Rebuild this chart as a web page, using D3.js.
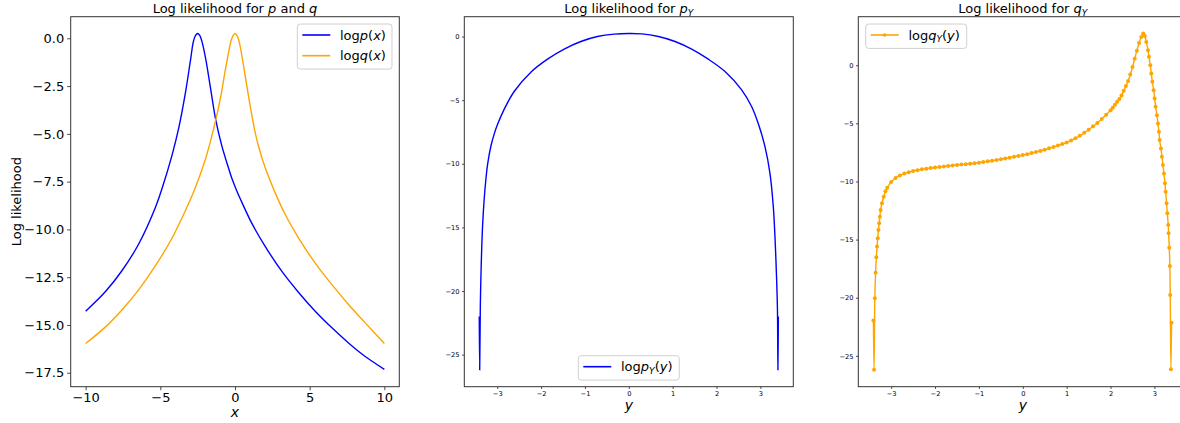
<!DOCTYPE html>
<html>
<head>
<meta charset="utf-8">
<script src="https://cdn.jsdelivr.net/npm/d3@7"></script>
<style>
  body { margin: 0; background: #fff; }
  text { font-family: "DejaVu Sans", sans-serif; fill: #000; }
</style>
</head>
<body>
<div id="chart"></div>
<script>
// ---- panel 1: log p(x), log q(x)
const pX = [-10, -8.67, -7.56, -6.44, -5.33, -4.88, -4.21, -3.77, -3.32, -2.99, -2.78, -2.64, -2.5, -2.36, -2.22,
  -1.98, -1.65, -1.29, -0.89, -0.45, -0.2, 0.1, 0.47, 1.14, 2.03, 3.14, 4.26, 5.37, 6.49, 7.6, 8.72, 10];
const pLog = [-14.28, -13.25, -12.15, -10.75, -8.85, -7.85, -6.1, -4.7, -2.85, -1.2, -0.15, 0.15, 0.25, 0.15, -0.15,
  -1.0, -2.55, -4.27, -5.6, -6.75, -7.35, -7.95, -8.6, -9.7, -10.9, -12.2, -13.3, -14.28, -15.15, -15.94, -16.65, -17.32];

const qX = [-10, -8.67, -7.56, -6.44, -5.33, -4.21, -3.37, -2.7, -2.03, -1.58, -1.29, -1.1, -0.91, -0.69, -0.47, -0.25, -0.12,
  0, 0.12, 0.25, 0.47, 0.69, 0.91, 1.14, 1.36, 1.58, 2.03, 2.7, 3.37, 4.26, 5.37, 6.49, 7.6, 8.72, 10];
const qLog = [-15.97, -15.1, -14.2, -13.15, -11.9, -10.45, -9.1, -7.9, -6.45, -5.2, -4.27, -3.6, -2.85, -1.85, -0.9, -0.09, 0.15,
  0.25, 0.15, -0.09, -0.96, -2.0, -3.05, -4.09, -4.96, -5.66, -6.79, -8.1, -9.23, -10.45, -11.76, -12.89, -13.93, -14.89, -15.97];

// ---- panel 2: log p_Y(y)
const pyY = [-3.41, -3.4, -3.385, -3.37, -3.35, -3.33, -3.3, -3.258, -3.22, -3.144, -3.068, -2.992, -2.84, -2.61,
  -2.233, -1.853, -1.474, -1.094, -0.715, -0.335, 0, 0.295, 0.675, 1.055, 1.434, 1.813, 2.194, 2.573, 2.8, 2.95,
  3.105, 3.219, 3.295, 3.333, 3.371, 3.39, 3.4, 3.41];
const pyLog = [-22.0, -26.2, -21.0, -18.6, -16.2, -14.6, -12.9, -11.2, -10.05, -8.6, -7.65, -6.9, -5.7, -4.3,
  -2.8, -1.78, -0.99, -0.39, 0.0, 0.19, 0.24, 0.21, 0.0, -0.39, -0.99, -1.78, -2.75, -4.19, -5.5, -6.82,
  -8.65, -10.75, -13.37, -15.74, -19.14, -21.5, -26.2, -22.0];

// ---- panel 3: log q_Y(y), drawn with point markers
const qyY = [-3.405, -3.39, -3.372, -3.355, -3.338, -3.322, -3.306, -3.29, -3.274, -3.258, -3.24, -3.21, -3.17, -3.13, -3.09,
  -3.0, -2.9, -2.8, -2.7, -2.6, -2.5, -2.4, -2.3, -2.2, -2.1, -2.0, -1.9, -1.8, -1.7, -1.6, -1.5, -1.4, -1.3, -1.2, -1.1,
  -1.0, -0.9, -0.8, -0.7, -0.6, -0.5, -0.4, -0.3, -0.2, -0.1, 0, 0.1, 0.2, 0.3, 0.4, 0.5, 0.6, 0.7, 0.8, 0.9,
  1.0, 1.1, 1.2, 1.3, 1.4, 1.5, 1.6, 1.7, 1.8, 1.9, 2.0, 2.05, 2.1, 2.15, 2.2, 2.25, 2.3, 2.35, 2.4, 2.45, 2.5,
  2.55, 2.6, 2.65, 2.7, 2.745, 2.78, 2.815, 2.853, 2.876, 2.906, 2.929, 2.952, 2.982, 3.005, 3.027, 3.057, 3.08,
  3.103, 3.118, 3.148, 3.171, 3.194, 3.217, 3.24, 3.255, 3.277, 3.293, 3.315, 3.323, 3.338, 3.352, 3.36, 3.376, 3.39];
const qyLog = [-21.96, -26.2, -20.05, -17.84, -16.52, -15.6, -14.89, -14.18, -13.6, -13.03, -12.46, -11.88, -11.31, -10.85, -10.55,
  -10.05, -9.7, -9.48, -9.32, -9.2, -9.1, -9.03, -8.96, -8.9, -8.85, -8.8, -8.75, -8.71, -8.67, -8.63, -8.59, -8.55, -8.51, -8.47, -8.43,
  -8.39, -8.33, -8.27, -8.21, -8.15, -8.09, -8.02, -7.95, -7.88, -7.8, -7.73, -7.65, -7.56, -7.47, -7.37, -7.27, -7.15, -7.03, -6.9, -6.78,
  -6.65, -6.47, -6.28, -6.07, -5.82, -5.55, -5.26, -4.97, -4.62, -4.26, -3.87, -3.65, -3.4, -3.15, -2.9, -2.6, -2.2, -1.8, -1.35, -0.8, -0.15,
  0.55, 1.25, 1.9, 2.43, 2.72, 2.5, 2.0, 1.29, 0.72, 0.0, -0.72, -1.43, -2.15, -2.86, -3.58, -4.3, -5.01,
  -5.73, -6.44, -7.16, -7.87, -8.59, -9.31, -10.16, -10.88, -11.88, -12.74, -13.75, -14.46, -15.69, -17.27, -19.76, -26.15, -22.14];

// ---- ticks
const xTicksP1 = [-10, -5, 0, 5, 10];
const yTicksP1 = [0, -2.5, -5, -7.5, -10, -12.5, -15, -17.5];
const xTicksY = [-3, -2, -1, 0, 1, 2, 3];
const yTicksY = [0, -5, -10, -15, -20, -25];

const BLUE = "#0000ff", ORANGE = "#ffa500";
const W = 1180, H = 423;
const plotTop = 16.7, plotBottom = 386.7;

const svg = d3.select("#chart").append("svg")
  .attr("width", W)
  .attr("height", H);

// mathtext-like label: plain / italic / subscript pieces
function mathText(sel, parts, size) {
  let shifted = false;
  parts.forEach(p => {
    const t = sel.append("tspan").text(p.t);
    if (p.i) t.style("font-style", "italic");
    if (p.sub) {
      t.style("font-size", (size * 0.7) + "px").attr("dy", size * 0.22);
      shifted = true;
    } else if (shifted) {
      t.attr("dy", -size * 0.22);
      shifted = false;
    }
  });
}

function drawPanel(cfg) {
  const x = d3.scaleLinear().domain(cfg.xDomain).range([cfg.left, cfg.right]);
  const y = d3.scaleLinear().domain(cfg.yDomain).range([plotBottom, plotTop]);
  const g = svg.append("g");

  // x axis
  const xAxis = g.append("g")
    .attr("transform", `translate(0,${plotBottom})`)
    .call(d3.axisBottom(x).tickValues(cfg.xTicks).tickSizeOuter(0)
      .tickSize(cfg.tickLen).tickPadding(cfg.pad).tickFormat(cfg.xFmt));
  xAxis.select(".domain").remove();
  xAxis.selectAll("line").attr("stroke", "#333").attr("stroke-width", 0.9);
  xAxis.selectAll("text")
    .attr("font-family", "DejaVu Sans")
    .style("font-size", cfg.tickFont + "px")
    .attr("fill", "#000");

  // y axis
  const yAxis = g.append("g")
    .attr("transform", `translate(${cfg.left},0)`)
    .call(d3.axisLeft(y).tickValues(cfg.yTicks).tickSizeOuter(0)
      .tickSize(cfg.tickLen).tickPadding(cfg.pad).tickFormat(cfg.yFmt));
  yAxis.select(".domain").remove();
  yAxis.selectAll("line").attr("stroke", "#333").attr("stroke-width", 0.9);
  yAxis.selectAll("text")
    .attr("font-family", "DejaVu Sans")
    .style("font-size", cfg.tickFont + "px")
    .attr("fill", "#000");

  // series
  cfg.series.forEach(s => {
    const pts = s.xs.map((v, i) => [v, s.ys[i]]);
    g.append("path")
      .datum(pts)
      .attr("fill", "none")
      .attr("stroke", s.color)
      .attr("stroke-width", 1.4)
      .attr("d", d3.line().x(d => x(d[0])).y(d => y(d[1])).curve(d3.curveCatmullRom.alpha(0.5)));
    if (s.markers) {
      g.append("g").selectAll("circle")
        .data(pts)
        .enter()
        .append("circle")
        .attr("cx", d => x(d[0]))
        .attr("cy", d => y(d[1]))
        .attr("r", 2)
        .attr("fill", s.color);
    }
  });

  // frame
  g.append("rect")
    .attr("x", cfg.left)
    .attr("y", plotTop)
    .attr("width", cfg.right - cfg.left)
    .attr("height", plotBottom - plotTop)
    .attr("fill", "none")
    .attr("stroke", "#333")
    .attr("stroke-width", 1);

  // title
  const cx = (cfg.left + cfg.right) / 2;
  mathText(g.append("text")
    .attr("x", cfg.titleX || cx)
    .attr("y", 12.8)
    .attr("text-anchor", "middle")
    .style("font-size", "13px"), cfg.title, 13);

  // axis labels
  g.append("text")
    .attr("x", cfg.titleX || cx)
    .attr("y", cfg.xLabelY)
    .attr("text-anchor", "middle")
    .style("font-size", "14px")
    .style("font-style", "italic")
    .text(cfg.xLabel);

  if (cfg.yLabel) {
    g.append("text")
      .attr("transform", `translate(20.5,${(plotTop + plotBottom) / 2}) rotate(-90)`)
      .attr("text-anchor", "middle")
      .style("font-size", "13px")
      .text(cfg.yLabel);
  }

  // legend
  const lg = cfg.legend;
  const leg = g.append("g").attr("transform", `translate(${lg.x},${lg.y})`);
  leg.append("rect")
    .attr("width", lg.w)
    .attr("height", 8 + lg.items.length * 20.7 - 4.3)
    .attr("rx", 3)
    .attr("fill", "rgba(255,255,255,0.8)")
    .attr("stroke", "#d0d0d0")
    .attr("stroke-width", 1);
  lg.items.forEach((it, i) => {
    const ly = 11 + i * 20.7;
    leg.append("line")
      .attr("x1", 5).attr("x2", 33)
      .attr("y1", ly).attr("y2", ly)
      .attr("stroke", it.color)
      .attr("stroke-width", 1.6);
    if (it.markers) {
      leg.append("circle").attr("cx", 19).attr("cy", ly).attr("r", 1.8).attr("fill", it.color);
    }
    mathText(leg.append("text")
      .attr("x", 42.7)
      .attr("y", ly + 4.6)
      .style("font-size", "13px"), it.label, 13);
  });
}

const fmtInt = d3.format("d");

drawPanel({
  left: 70.7, right: 399.3,
  xDomain: [-11, 11], yDomain: [-18.23, 1.13],
  xTicks: xTicksP1, yTicks: yTicksP1,
  xFmt: fmtInt, yFmt: d3.format(".1f"),
  tickFont: 13, tickLen: 3.5, pad: 3,
  title: [{ t: "Log likelihood for " }, { t: "p", i: 1 }, { t: " and " }, { t: "q", i: 1 }],
  xLabel: "x", xLabelY: 416.5,
  yLabel: "Log likelihood",
  series: [
    { xs: pX, ys: pLog, color: BLUE },
    { xs: qX, ys: qLog, color: ORANGE }
  ],
  legend: {
    x: 297.3, y: 24, w: 94.7,
    items: [
      { color: BLUE, label: [{ t: "log" }, { t: "p", i: 1 }, { t: "(" }, { t: "x", i: 1 }, { t: ")" }] },
      { color: ORANGE, label: [{ t: "log" }, { t: "q", i: 1 }, { t: "(" }, { t: "x", i: 1 }, { t: ")" }] }
    ]
  }
});

drawPanel({
  left: 464.3, right: 793.3,
  xDomain: [-3.751, 3.751], yDomain: [-27.52, 1.56],
  xTicks: xTicksY, yTicks: yTicksY,
  xFmt: fmtInt, yFmt: fmtInt,
  tickFont: 6.7, tickLen: 2.2, pad: 2.5,
  title: [{ t: "Log likelihood for " }, { t: "p", i: 1 }, { t: "Y", i: 1, sub: 1 }],
  xLabel: "y", xLabelY: 409.5,
  series: [{ xs: pyY, ys: pyLog, color: BLUE }],
  legend: {
    x: 578.3, y: 355.7, w: 101,
    items: [
      { color: BLUE, label: [{ t: "log" }, { t: "p", i: 1 }, { t: "Y", i: 1, sub: 1 }, { t: "(" }, { t: "y", i: 1 }, { t: ")" }] }
    ]
  }
});

drawPanel({
  left: 858.3, right: 1187.3,
  xDomain: [-3.749, 3.749], yDomain: [-27.65, 4.17],
  xTicks: xTicksY, yTicks: yTicksY,
  xFmt: fmtInt, yFmt: fmtInt,
  tickFont: 6.7, tickLen: 2.2, pad: 2.5,
  title: [{ t: "Log likelihood for " }, { t: "q", i: 1 }, { t: "Y", i: 1, sub: 1 }],
  xLabel: "y", xLabelY: 409.5,
  series: [{ xs: qyY, ys: qyLog, color: ORANGE, markers: true }],
  legend: {
    x: 865.7, y: 24, w: 101,
    items: [
      { color: ORANGE, markers: true, label: [{ t: "log" }, { t: "q", i: 1 }, { t: "Y", i: 1, sub: 1 }, { t: "(" }, { t: "y", i: 1 }, { t: ")" }] }
    ]
  }
});
</script>
</body>
</html>
